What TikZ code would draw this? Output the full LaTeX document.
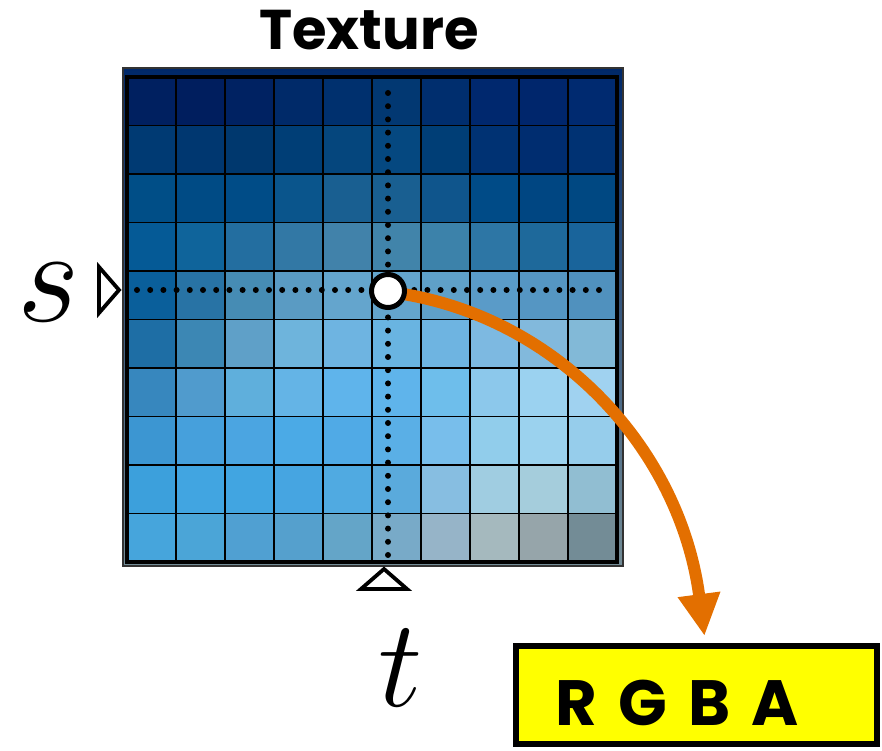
\documentclass[tikz,border=0pt]{standalone}
\usepackage{fix-cm}
\usepackage{fontspec}
\setsansfont{Poppins}
\usetikzlibrary{arrows.meta, positioning}
\definecolor{curveorange}{RGB}{227,111,0}
\definecolor{boxyellow}{RGB}{255,255,0}
\definecolor{frametop}{RGB}{0,40,105}
\definecolor{framemid}{RGB}{110,175,215}
\definecolor{framebot}{RGB}{115,140,150}

\begin{document}
\begin{tikzpicture}[x=1pt, y=1pt,
  cell/.style={draw=black, line width=1.8pt},
  dots/.style={draw=black, line width=6pt, line cap=round, dash pattern=on 0pt off 13.2pt},
  marker/.style={draw=black, fill=white, line width=3.8pt, line join=miter},
  texel/.style={circle, draw=black, fill=white, line width=5pt, minimum size=33pt, inner sep=0pt},
  result/.style={rectangle, draw=black, fill=boxyellow, line width=6pt, minimum height=98pt,
    text width=283pt, inner xsep=39pt, align=left, text height=60pt, text depth=0pt,
    font=\sffamily\bfseries\fontsize{64}{64}\selectfont},
  fetch/.style={-{Triangle[length=42pt, width=40pt]}, draw=curveorange, line width=12pt},
  big/.style={font=\fontsize{135}{135}\selectfont, inner sep=0pt}
]
\useasboundingbox (0,0) rectangle (882,750);

% texture frame and texels
\shade[top color=frametop, middle color=framemid, bottom color=framebot, draw=black!80, line width=1.5pt]
  (123,184) rectangle (623,682);
\foreach \rowcols [count=\r from 0] in {
  {0/32/96, 0/30/94, 0/34/98, 0/42/105, 0/48/110, 2/56/114, 0/46/110, 0/40/110, 0/38/108, 0/42/112},
  {0/58/115, 0/55/112, 0/56/110, 0/62/118, 5/70/125, 5/72/128, 0/62/118, 0/50/115, 0/45/112, 0/50/115},
  {0/78/135, 0/75/133, 0/76/135, 10/85/140, 25/95/145, 25/95/145, 15/85/140, 0/75/135, 0/70/130, 0/72/130},
  {5/90/150, 15/100/155, 35/110/160, 50/120/165, 65/130/170, 65/132/170, 60/130/170, 45/118/165, 30/105/155, 25/100/155},
  {10/95/155, 40/115/165, 70/140/180, 90/155/195, 100/165/205, 100/165/205, 95/160/200, 90/155/200, 85/150/195, 80/145/190},
  {30/110/165, 60/135/180, 95/160/200, 110/180/220, 110/180/225, 105/180/225, 110/180/225, 125/185/225, 130/185/220, 130/185/215},
  {55/135/190, 80/155/205, 95/175/220, 100/180/230, 95/180/235, 95/180/235, 110/190/235, 140/200/235, 155/210/240, 160/210/240},
  {60/150/210, 70/160/220, 75/165/225, 75/170/230, 80/170/230, 90/175/230, 120/190/235, 145/205/235, 155/210/238, 150/205/235},
  {60/160/220, 65/165/225, 65/165/225, 70/165/225, 80/170/225, 90/170/220, 135/190/225, 160/205/225, 165/205/220, 145/190/210},
  {70/165/220, 75/165/215, 80/160/210, 85/160/205, 100/165/200, 120/170/200, 150/180/200, 165/185/190, 150/165/170, 115/140/150}}{
  \foreach \cr/\cg/\cb [count=\c from 0] in \rowcols {
    \filldraw[cell, fill={rgb,255:red,\cr;green,\cg;blue,\cb}]
      ({127+\c*49}, {673-\r*48.5}) rectangle ++(49,-48.5);
  }
}
\draw[line width=4.5pt] (127,188) rectangle (617,673);

% sampling lines
\draw[dots] (137,460) -- (600,460);
\draw[dots] (388,657) -- (388,194);

% coordinate markers
\draw[marker] (99,483) -- (119,460) -- (99,437) -- cycle;
\draw[marker] (384,181) -- (407,161) -- (361,161) -- cycle;
\node[big] (slabel) at (49,458) {$s$};
\node[big, font=\fontsize{125}{125}\selectfont] (tlabel) at (401,82) {$t$};

\node[font=\sffamily\bfseries\fontsize{56}{56}\selectfont] (title) at (369,720) {Texture};

% lookup
\coordinate (lookup) at (388,459);
\node[result] (rgba) at (696.5,55) {R G B A};
\draw[fetch] ([xshift=15pt,yshift=-3pt]lookup) .. controls (560,430) and (680,300) .. ([xshift=8pt,yshift=7pt]rgba.north);
\node[texel] (sample) at (lookup) {};
\end{tikzpicture}
\end{document}
